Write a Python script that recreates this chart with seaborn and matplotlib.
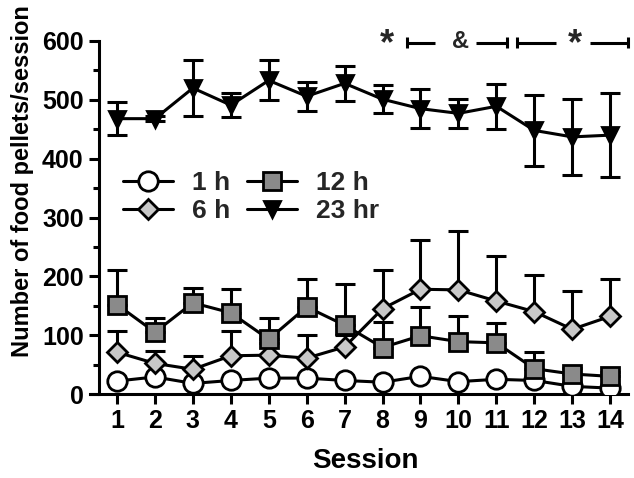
import numpy as np
import pandas as pd
import matplotlib
matplotlib.use("Agg")
import matplotlib.pyplot as plt
from matplotlib.ticker import MultipleLocator
import seaborn as sns

# ---------------- data ----------------
sessions = list(range(1, 15))
h1_mean = [22, 29, 18, 23, 27, 27, 23, 20, 30, 21, 25, 23, 13, 10]
h6_mean = [71, 52, 42, 65, 66, 61, 80, 145, 178, 177, 158, 140, 110, 132]
h6_err = [36, 21, 23, 42, 20, 40, 20, 66, 83, 100, 76, 62, 65, 63]
h12_mean = [152, 105, 155, 138, 93, 148, 117, 79, 99, 89, 87, 43, 34, 30]
h12_err = [59, 25, 26, 41, 36, 47, 70, 43, 49, 43, 34, 28, 10, 8]
h23_mean = [468, 468, 520, 491, 533, 506, 528, 501, 485, 477, 489, 448, 437, 440]
h23_err = [28, 4, 47, 21, 34, 25, 30, 24, 33, 25, 38, 60, 64, 72]
series_labels = ["1 h", "6 h", "12 h", "23 hr"]
x_ticks = list(range(1, 15))
y_ticks = [0, 100, 200, 300, 400, 500, 600]

# significance annotations (x in session units)
star_x = [8.12, 13.08]
amp_x = [10.05]
bracket_segments = [(8.65, 9.39), (10.45, 11.29), (11.55, 12.56), (13.48, 14.46)]
bracket_ends = [8.65, 11.29, 11.55, 14.46]
annot_y = 597

# ---------------- style ----------------
sns.set_theme(style="ticks")
plt.rcParams["font.family"] = ["Liberation Sans", "DejaVu Sans"]
plt.rcParams["font.weight"] = "bold"

fig = plt.figure(figsize=(6.34, 4.78), dpi=100)
ax = fig.add_axes([99 / 634, 1 - 394 / 478, (628 - 99) / 634, (394 - 41) / 478])

LW = 2.2
df = pd.DataFrame({"session": sessions, "1 h": h1_mean, "6 h": h6_mean,
                   "12 h": h12_mean, "23 hr": h23_mean})

styles = {
    "1 h": dict(marker="o", markersize=14, markerfacecolor="white"),
    "6 h": dict(marker="D", markersize=10.5, markerfacecolor="#c8c8c8"),
    "12 h": dict(marker="s", markersize=13, markerfacecolor="#8a8a8a"),
    "23 hr": dict(marker="v", markersize=11.5, markerfacecolor="black"),
}
errs = {
    "6 h": [np.zeros(len(sessions)), h6_err],
    "12 h": [np.zeros(len(sessions)), h12_err],
    "23 hr": [h23_err, h23_err],
}

for i, lab in enumerate(series_labels):
    z = 3 + i
    if lab in errs:
        ax.errorbar(df["session"], df[lab], yerr=errs[lab], fmt="none",
                    ecolor="black", elinewidth=LW, capsize=7, capthick=LW,
                    zorder=z)
    sns.lineplot(data=df, x="session", y=lab, ax=ax, color="black",
                 linewidth=LW, markeredgecolor="black", markeredgewidth=2,
                 label=lab, zorder=z + 0.5, legend=False, **styles[lab])

ax.set_xlim(0.525, 14.47)
ax.set_ylim(0, 600)
ax.set_xticks(x_ticks)
ax.set_yticks(y_ticks)
ax.yaxis.set_minor_locator(MultipleLocator(50))
ax.tick_params(axis="both", which="major", labelsize=18, width=LW, length=7,
               color="black", labelcolor="black")
ax.tick_params(axis="x", pad=4)
ax.tick_params(axis="y", pad=4)
ax.tick_params(axis="y", which="minor", width=LW, length=4.5, color="black")
for t in ax.get_xticklabels() + ax.get_yticklabels():
    t.set_fontweight("bold")

for s in ["top", "right"]:
    ax.spines[s].set_visible(False)
for s in ["left", "bottom"]:
    ax.spines[s].set_linewidth(LW)
    ax.spines[s].set_color("black")
ax.spines["bottom"].set_bounds(0.29, 14.47)

ax.set_xlabel("Session", fontsize=20, fontweight="bold", color="black")
ax.set_ylabel("Number of food pellets/session", fontsize=17, fontweight="bold",
              color="black")
ax.xaxis.set_label_coords(0.503, -0.153)
ax.yaxis.set_label_coords(-0.123, 0.602)

# legend
handles, labels = ax.get_legend_handles_labels()
order = [labels.index(l) for l in series_labels]
leg = ax.legend([handles[i] for i in order], [labels[i] for i in order],
                ncol=2, frameon=False, loc="upper left",
                bbox_to_anchor=(123 / 634, 1 - 171 / 478),
                bbox_transform=fig.transFigure, borderpad=0, borderaxespad=0,
                handlelength=1.9, handletextpad=0.7, columnspacing=0.65,
                labelspacing=0.15, prop={"weight": "bold", "size": 19})

# annotations
for xs in star_x:
    ax.text(xs, annot_y - 3, "*", fontsize=26, fontweight="bold",
            ha="center", va="center", clip_on=False)
for xs in amp_x:
    ax.text(xs, annot_y + 3, "&", fontsize=17, fontweight="bold",
            ha="center", va="center", clip_on=False)
for (a, b) in bracket_segments:
    ax.plot([a, b], [annot_y, annot_y], color="black", lw=LW, clip_on=False,
            solid_capstyle="butt")
for xe in bracket_ends:
    ax.plot([xe, xe], [annot_y - 9, annot_y + 9], color="black", lw=LW,
            clip_on=False, solid_capstyle="butt")

fig.savefig("out.png", dpi=100)
